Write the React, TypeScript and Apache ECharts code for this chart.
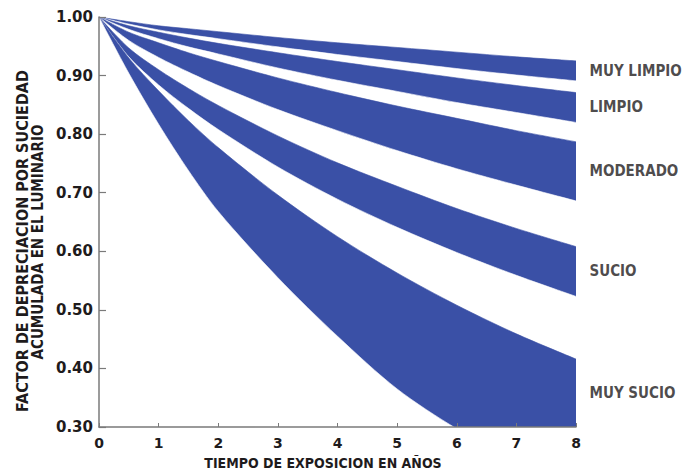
import React, { useEffect, useRef } from "react";
import * as echarts from "echarts";

const years = [0, 0.5, 1, 1.5, 2, 3, 4, 5, 6, 7, 8];
const muyLimpioTop = [1, 0.992, 0.985, 0.98, 0.975, 0.965, 0.956, 0.948, 0.94, 0.932, 0.925];
const muyLimpioBottom = [1, 0.988, 0.978, 0.97, 0.963, 0.949, 0.936, 0.924, 0.912, 0.901, 0.891];
const limpioTop = [1, 0.985, 0.974, 0.964, 0.955, 0.939, 0.924, 0.91, 0.896, 0.883, 0.871];
const limpioBottom = [1, 0.979, 0.963, 0.949, 0.937, 0.913, 0.892, 0.873, 0.854, 0.837, 0.82];
const moderadoTop = [1, 0.974, 0.956, 0.939, 0.924, 0.896, 0.871, 0.848, 0.827, 0.806, 0.787];
const moderadoBottom = [1, 0.96, 0.931, 0.906, 0.883, 0.842, 0.806, 0.772, 0.741, 0.713, 0.686];
const sucioTop = [1, 0.947, 0.91, 0.878, 0.849, 0.797, 0.751, 0.711, 0.673, 0.639, 0.608];
const sucioBottom = [1, 0.932, 0.884, 0.844, 0.808, 0.744, 0.689, 0.641, 0.598, 0.559, 0.523];
const muySucioTop = [1, 0.93, 0.874, 0.823, 0.777, 0.696, 0.625, 0.563, 0.508, 0.459, 0.416];
const muySucioBottom = [1, 0.904, 0.817, 0.738, 0.668, 0.555, 0.455, 0.365, 0.297, 0.243, 0.199];

const bandNames = ["MUY LIMPIO", "LIMPIO", "MODERADO", "SUCIO", "MUY SUCIO"];
const bandTops = [muyLimpioTop, limpioTop, moderadoTop, sucioTop, muySucioTop];
const bandBottoms = [muyLimpioBottom, limpioBottom, moderadoBottom, sucioBottom, muySucioBottom];

const yTitle1 = "FACTOR DE DEPRECIACION POR SUCIEDAD";
const yTitle2 = "ACUMULADA EN EL LUMINARIO";
const xTitle = "TIEMPO DE EXPOSICION EN AÑOS";

const Y_MIN = 0.3;
const Y_MAX = 1.0;

const BLUE = "#3a50a6";
const TEXT = "#1e1b1c";
const AXIS = "#7a7a7a";
const COND = '"DejaVu Sans Condensed", "Liberation Sans Narrow", "DejaVu Sans", sans-serif';
const BOLD = '"DejaVu Sans", sans-serif';

export default function App() {
  const ref = useRef<HTMLDivElement>(null);
  useEffect(() => {
    const chart = echarts.init(ref.current!, null, { renderer: "svg" });
    const series: any[] = [];
    let z = 2;
    bandNames.forEach((name, i) => {
      const top = bandTops[i];
      const bot = bandBottoms[i];
      // blue area from the band's upper curve down to the axis
      series.push({
        type: "line",
        name: name,
        data: years.map((x, j) => [x, top[j]]),
        symbol: "none",
        smooth: 0.3,
        lineStyle: { width: 0.6, color: BLUE },
        areaStyle: { color: BLUE, opacity: 1, origin: "start" },
        silent: true,
        z: z++,
      });
      // white area from the band's lower curve down to the axis
      series.push({
        type: "line",
        name: name + " (inferior)",
        data: years.map((x, j) => [x, bot[j]]),
        symbol: "none",
        smooth: 0.3,
        lineStyle: { width: 0.6, color: "#ffffff" },
        areaStyle: { color: "#ffffff", opacity: 1, origin: "start" },
        silent: true,
        z: z++,
      });
    });
    series.push({
      type: "scatter",
      symbolSize: 1,
      itemStyle: { color: "rgba(0,0,0,0)" },
      silent: true,
      clip: false,
      z: 50,
      data: bandNames.map((name, i) => {
        const last = years.length - 1;
        const lo = Math.max(bandBottoms[i][last], Y_MIN);
        return { value: [years[last], (bandTops[i][last] + lo) / 2], name };
      }),
      label: {
        show: true,
        position: "right",
        distance: 13,
        formatter: (p: any) => p.name,
        fontFamily: COND,
        fontWeight: "bold",
        fontSize: 15,
        color: TEXT,
      },
    });

    chart.setOption({
      animation: false,
      backgroundColor: "#ffffff",
      grid: { left: 99, right: 115, top: 17, bottom: 48, containLabel: false },
      xAxis: {
        type: "value",
        min: 0,
        max: 8,
        interval: 1,
        z: 40,
        axisLine: { show: true, lineStyle: { color: AXIS, width: 1.5 } },
        axisTick: { show: true, inside: true, length: 4, lineStyle: { color: AXIS } },
        splitLine: { show: false },
        axisLabel: { fontFamily: BOLD, fontWeight: "bold", fontSize: 14, color: TEXT, margin: 9 },
      },
      yAxis: {
        type: "value",
        min: Y_MIN,
        max: Y_MAX,
        interval: 0.1,
        z: 40,
        axisLine: { show: true, lineStyle: { color: AXIS, width: 1.5 } },
        axisTick: { show: true, inside: true, length: 7, lineStyle: { color: AXIS, width: 1.2 } },
        splitLine: { show: false },
        axisLabel: {
          fontFamily: BOLD,
          fontWeight: "bold",
          fontSize: 15,
          color: TEXT,
          margin: 6,
          formatter: (v: number) => v.toFixed(2),
        },
      },
      graphic: [
        {
          type: "text",
          x: 22,
          y: 241,
          rotation: Math.PI / 2,
          style: {
            text: yTitle1,
            fontFamily: COND,
            fontWeight: "bold",
            fontSize: 16,
            fill: TEXT,
            textAlign: "center",
            textVerticalAlign: "middle",
          },
        },
        {
          type: "text",
          x: 38,
          y: 242,
          rotation: Math.PI / 2,
          style: {
            text: yTitle2,
            fontFamily: COND,
            fontWeight: "bold",
            fontSize: 15,
            fill: TEXT,
            textAlign: "center",
            textVerticalAlign: "middle",
          },
        },
        {
          type: "text",
          x: 323,
          y: 463,
          style: {
            text: xTitle,
            fontFamily: COND,
            fontWeight: "bold",
            fontSize: 14,
            fill: TEXT,
            textAlign: "center",
            textVerticalAlign: "middle",
          },
        },
      ],
      series,
    });
    return () => chart.dispose();
  }, []);
  return (
    <div
      ref={ref}
      style={{ position: "fixed", left: 0, top: 0, width: 691, height: 475, background: "#fff" }}
    />
  );
}
